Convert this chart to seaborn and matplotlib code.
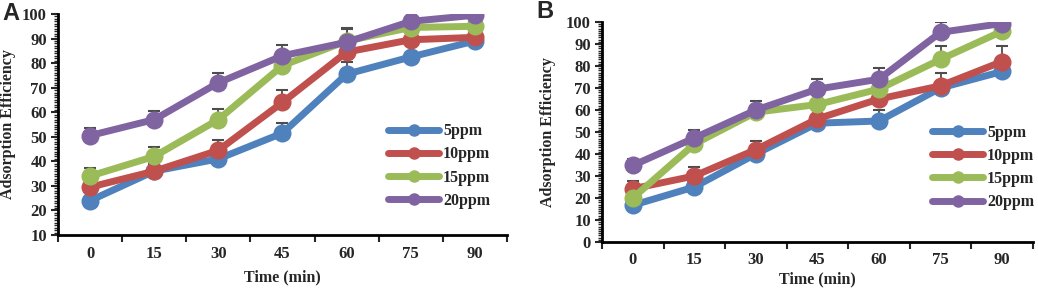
import numpy as np
import pandas as pd
import matplotlib
matplotlib.use("Agg")
import matplotlib.pyplot as plt
import seaborn as sns
from matplotlib.ticker import MultipleLocator, FixedLocator

# --- data ---
times = ["0", "15", "30", "45", "60", "75", "90"]
series = ["5ppm", "10ppm", "15ppm", "20ppm"]
colors = ["#4F81BD", "#C0504D", "#9BBB59", "#8064A2"]

a_5 = [24, 36, 41, 51.5, 75.5, 82.5, 89]
a_10 = [29.5, 36, 44.5, 64, 84.5, 89.5, 90.5]
a_15 = [34, 42, 57, 79, 89, 94.5, 95]
a_20 = [50.5, 57, 72, 83, 88.5, 97, 99.5]
a_err_5 = [2, 2.5, 2, 4, 5, 6, 1.5]
a_err_10 = [2, 3.5, 4, 5, 3, 1.5, 1]
a_err_15 = [3.3, 4, 4.3, 2, 5, 1, 1]
a_err_20 = [3, 3.5, 4, 4.5, 6, 1, 1]

b_5 = [16.7, 25, 40, 54, 55, 70, 77.5]
b_10 = [24.2, 30, 42, 56, 65, 71, 82]
b_15 = [20, 44.5, 59, 62.5, 69.5, 83, 95.8]
b_20 = [34.8, 47.3, 60, 69.5, 74, 95.3, 99.3]
b_err_5 = [1, 1.5, 1.5, 1.5, 5, 1.5, 1.5]
b_err_10 = [3.4, 4, 4, 1.5, 1.5, 6, 7]
b_err_15 = [1, 1.5, 1, 1.5, 1.5, 6, 1.5]
b_err_20 = [3, 3.7, 4, 4.5, 5, 4.5, 1]

sns.set_style("white")
plt.rcParams["font.family"] = ["Liberation Serif", "DejaVu Serif"]
plt.rcParams["font.weight"] = "bold"
TICK_FS = 12
LAB_FS = 11.5


def make_df(vals):
    rows = []
    for name, v in zip(series, vals):
        for i, y in enumerate(v):
            rows.append({"pos": i, "val": y, "series": name})
    return pd.DataFrame(rows)


def draw_panel(ax, vals, errs, ylim, leg_anchor, ylabelpad, xpad, xlabelpad,
               letter, letter_xy, fig):
    df = make_df(vals)
    # plus-only error bars, behind the lines
    for v, e in zip(vals, errs):
        ax.errorbar(np.arange(len(times)), v, yerr=[np.zeros(len(e)), e],
                    fmt="none", ecolor="#4d4d4d", elinewidth=1.3,
                    capsize=4.5, capthick=1.5, zorder=1)
    sns.lineplot(data=df, x="pos", y="val", hue="series", hue_order=series,
                 palette=colors, marker="o", markersize=13, linewidth=5,
                 markeredgewidth=0, ax=ax, zorder=3)

    handles, labels = ax.get_legend_handles_labels()
    for h in handles:
        h.set_markersize(9)
    ax.legend(handles, labels, loc="center left", bbox_to_anchor=leg_anchor,
              frameon=False, handlelength=3.2, handletextpad=0.25,
              labelspacing=0.45, borderpad=0, borderaxespad=0,
              prop={"family": "Liberation Serif", "weight": "bold",
                    "size": LAB_FS})

    ax.set_xlim(-0.5, len(times) - 0.5)
    ax.set_ylim(*ylim)
    ax.set_xticks(range(len(times)))
    ax.set_xticklabels(times)
    ax.xaxis.set_minor_locator(FixedLocator(np.arange(-0.5, len(times), 1.0)))
    ax.yaxis.set_major_locator(MultipleLocator(10))
    ax.yaxis.set_minor_locator(MultipleLocator(1))
    ax.tick_params(axis="x", which="major", length=0, pad=xpad, labelsize=TICK_FS)
    ax.tick_params(axis="x", which="minor", length=5, width=1.5,
                   direction="out", bottom=True)
    ax.tick_params(axis="y", which="major", length=5, width=1.5,
                   direction="out", left=True, pad=3, labelsize=TICK_FS)
    ax.tick_params(axis="y", which="minor", length=3, width=1,
                   direction="out", left=True)
    for lab in ax.get_xticklabels() + ax.get_yticklabels():
        lab.set_fontweight("bold")

    sns.despine(ax=ax)
    for s in ["left", "bottom"]:
        ax.spines[s].set_linewidth(2)
        ax.spines[s].set_color("black")
    ax.set_xlabel("Time (min)", fontsize=LAB_FS, fontweight="bold",
                  labelpad=xlabelpad)
    ax.set_ylabel("Adsorption Efficiency", fontsize=LAB_FS, fontweight="bold",
                  labelpad=ylabelpad)
    fig.text(letter_xy[0], letter_xy[1], letter, fontsize=17,
             fontweight="bold", family="Liberation Sans",
             ha="center", va="center")


fig = plt.figure(figsize=(10.38, 2.91), dpi=100)
ax_a = fig.add_axes([0.0559, 0.1924, 0.4325, 0.7595])
ax_b = fig.add_axes([0.580, 0.1684, 0.415, 0.756])

draw_panel(ax_a, [a_5, a_10, a_15, a_20],
           [a_err_5, a_err_10, a_err_15, a_err_20],
           (10, 100), (0.735, 0.312), 4, 8, 5,
           "A", (11 / 1038, 1 - 13 / 291), fig)
draw_panel(ax_b, [b_5, b_10, b_15, b_20],
           [b_err_5, b_err_10, b_err_15, b_err_20],
           (0, 100), (0.766, 0.339), 7, 7, 3,
           "B", (545 / 1038, 1 - 12 / 291), fig)

fig.savefig("out.png", dpi=100)
